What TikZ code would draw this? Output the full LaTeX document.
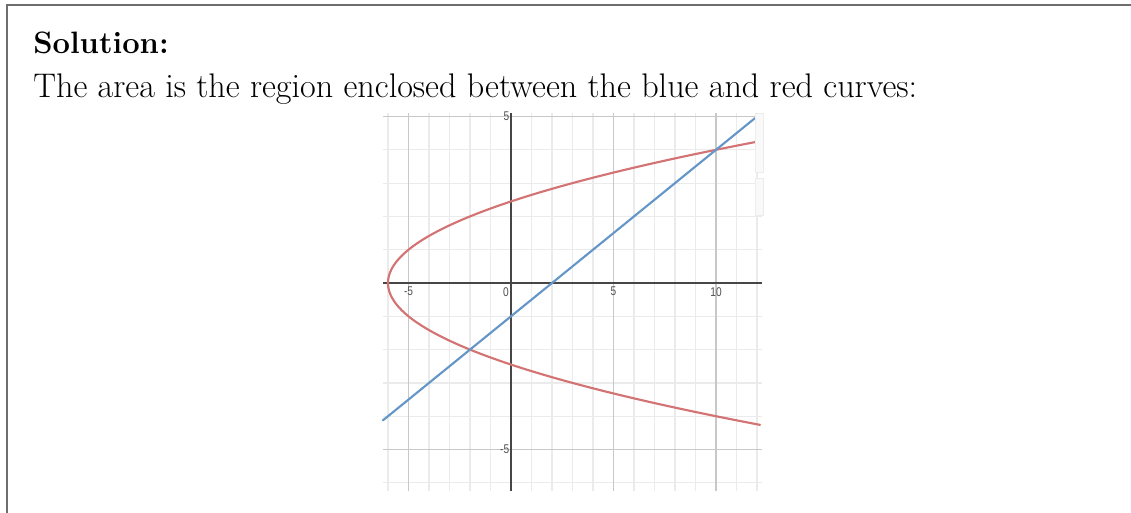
\documentclass[tikz,border=0pt]{standalone}
\usepackage{fontspec}
\newfontfamily\ticksf{Liberation Sans}
\definecolor{curvered}{RGB}{212,115,115}
\definecolor{curveblue}{RGB}{100,150,200}
\definecolor{minorgrid}{RGB}{235,235,235}
\definecolor{majorgrid}{RGB}{200,200,200}
\definecolor{axisgray}{RGB}{70,70,70}
\definecolor{framegray}{RGB}{110,110,110}
\definecolor{ticklabel}{RGB}{80,80,80}
\tikzset{
  bigtext/.style={inner sep=0pt, font=\fontsize{25.6}{30}\selectfont},
  titletext/.style={inner sep=0pt, font=\fontsize{23.2}{28}\selectfont\bfseries},
  ticklbl/.style={inner sep=0pt, font=\ticksf\fontsize{9.5}{10}\selectfont, text=ticklabel, xscale=0.8},
  minorline/.style={draw=minorgrid, line width=0.9pt},
  majorline/.style={draw=majorgrid, line width=1pt},
  curve/.style={line width=1.6pt, line cap=round},
}
\begin{document}
\begin{tikzpicture}[x=0.75pt,y=-0.75pt]
\useasboundingbox (0,0) rectangle (1131,512);
% frame
\draw[framegray, line width=1.1pt] (7,530) -- (7,5) -- (1150,5);
% texts
\node[titletext, anchor=base west] (title) at (33,53) {Solution:};
\node[bigtext, anchor=base west] (body) at (33,97) {The area is the region enclosed between the blue and red curves:};
% graph
\begin{scope}[shift={(511,283)}, x=15.375pt, y=24.975pt]
  % minor grid
  \foreach \gx in {-6,-4,-3,-2,-1,1,2,3,4,6,7,8,9,11,12}
    \draw[minorline] (\gx,-6.26) -- (\gx,5.11);
  \foreach \gy in {-6,-4,-3,-2,-1,1,2,3,4}
    \draw[minorline] (-6.25,\gy) -- (12.24,\gy);
  % major grid
  \foreach \gx in {-5,5,10}
    \draw[majorline] (\gx,-6.26) -- (\gx,5.11);
  \foreach \gy in {-5,5}
    \draw[majorline] (-6.25,\gy) -- (12.24,\gy);
  % axes
  \coordinate (xl) at (-6.25,0);
  \coordinate (xr) at (12.24,0);
  \coordinate (yb) at (0,-6.26);
  \coordinate (yt) at (0,5.11);
  \draw[axisgray, line width=1.5pt] (xl) -- (xr);
  \draw[axisgray, line width=1pt] (yb) -- (yt);
  % tick labels
  \node[ticklbl, anchor=north] (lm5) at (-5,-0.12) {-5};
  \node[ticklbl, anchor=north east] (l0) at (-0.1,-0.12) {0};
  \node[ticklbl, anchor=north] (l5) at (5,-0.12) {5};
  \node[ticklbl, anchor=north] (l10) at (10,-0.12) {10};
  \node[ticklbl, anchor=east] (ly5) at (-0.08,5) {5};
  \node[ticklbl, anchor=east] (lym5) at (-0.08,-5) {-5};
  % curves
  \draw[curve, curvered] plot[domain=-4.26:4.25, samples=120, smooth] ({\x*\x-6},\x);
  \coordinate (bs) at (-6.25,-4.125);
  \coordinate (be) at (11.9,4.95);
  \draw[curve, curveblue] (bs) -- (be);
\end{scope}
% side panels of the screenshot
\filldraw[fill=gray!5, draw=gray!15, line width=0.5pt] (755,113) rectangle (763,172);
\filldraw[fill=gray!5, draw=gray!15, line width=0.5pt] (755,178) rectangle (763,215);
\end{tikzpicture}
\end{document}
